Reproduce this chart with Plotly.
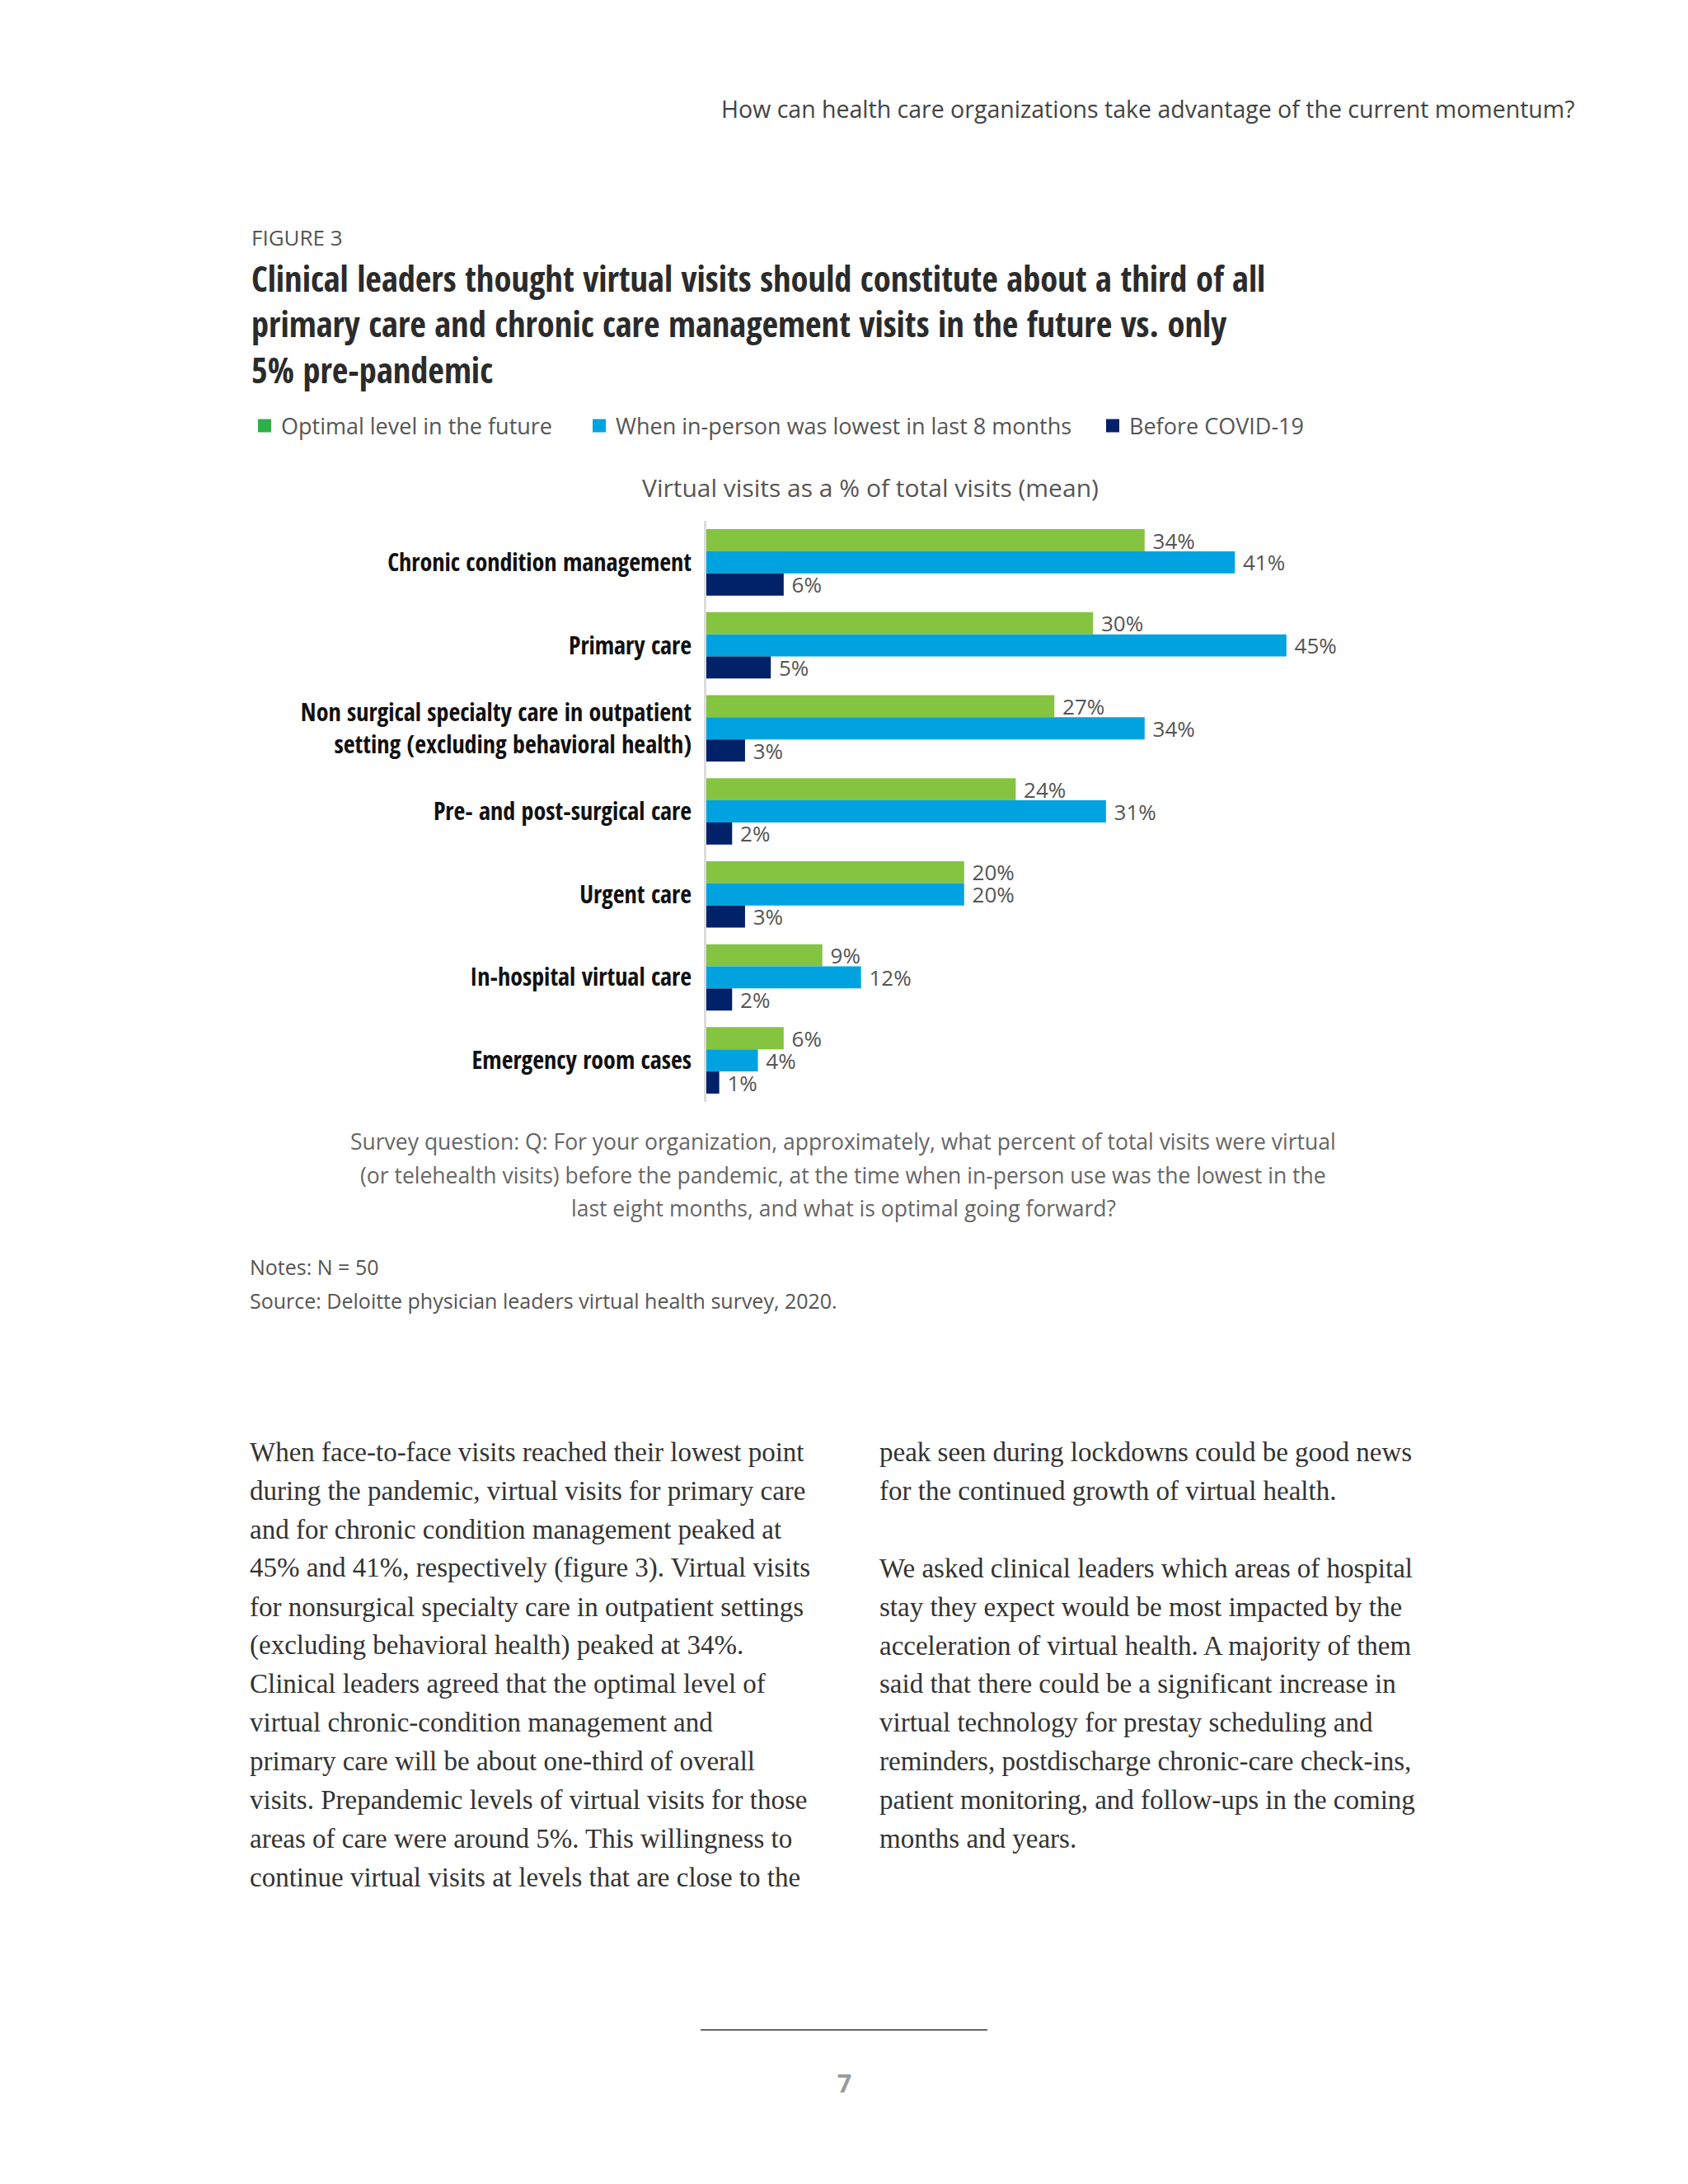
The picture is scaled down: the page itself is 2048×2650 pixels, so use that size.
import plotly.graph_objects as go

# ---------------- data ----------------
categories = [
    "Chronic condition management",
    "Primary care",
    "Non surgical specialty care in outpatient<br>setting (excluding behavioral health)",
    "Pre- and post-surgical care",
    "Urgent care",
    "In-hospital virtual care",
    "Emergency room cases",
]
series_names = [
    "Optimal level in the future",
    "When in-person was lowest in last 8 months",
    "Before COVID-19",
]
optimal_future = [34, 30, 27, 24, 20, 9, 6]
lowest_in_person = [41, 45, 34, 31, 20, 12, 4]
before_covid = [6, 5, 3, 2, 3, 2, 1]

header_text = "How can health care organizations take advantage of the current momentum?"
figure_label = "FIGURE 3"
title_lines = [
    "Clinical leaders thought virtual visits should constitute about a third of all",
    "primary care and chronic care management visits in the future vs. only",
    "5% pre-pandemic",
]
axis_title = "Virtual visits as a % of total visits (mean)"
survey_lines = [
    "Survey question: Q: For your organization, approximately, what percent of total visits were virtual",
    "(or telehealth visits) before the pandemic, at the time when in-person use was the lowest in the",
    "last eight months, and what is optimal going forward?",
]
notes_lines = [
    "Notes: N = 50",
    "Source: Deloitte physician leaders virtual health survey, 2020.",
]
body_left = [
    "When face-to-face visits reached their lowest point",
    "during the pandemic, virtual visits for primary care",
    "and for chronic condition management peaked at",
    "45% and 41%, respectively (figure 3). Virtual visits",
    "for nonsurgical specialty care in outpatient settings",
    "(excluding behavioral health) peaked at 34%.",
    "Clinical leaders agreed that the optimal level of",
    "virtual chronic-condition management and",
    "primary care will be about one-third of overall",
    "visits. Prepandemic levels of virtual visits for those",
    "areas of care were around 5%. This willingness to",
    "continue virtual visits at levels that are close to the",
]
body_right = [
    "peak seen during lockdowns could be good news",
    "for the continued growth of virtual health.",
    "",
    "We asked clinical leaders which areas of hospital",
    "stay they expect would be most impacted by the",
    "acceleration of virtual health. A majority of them",
    "said that there could be a significant increase in",
    "virtual technology for prestay scheduling and",
    "reminders, postdischarge chronic-care check-ins,",
    "patient monitoring, and follow-ups in the coming",
    "months and years.",
]
page_number = "7"

# ---------------- styling ----------------
W, H = 2048, 2650
OFF = 8  # page body margin of the html
PL, PR, PT, PB = 857, 1639, 632, 1337
XMAX = 50

GREEN = "#84C441"
BLUE = "#00A3E0"
NAVY = "#012169"
LEG_GREEN = "#2DB04B"
SANS = "Open Sans, sans-serif"
COND = "Open Sans Condensed, Roboto Condensed, sans-serif"
SERIF = "Liberation Serif, DejaVu Serif, serif"


def px(x):
    return (x - PL) / (PR - PL)


def py(y):
    return (PB - y) / (PB - PT)


fig = go.Figure()
values = [optimal_future, lowest_in_person, before_covid]
colors = [GREEN, BLUE, NAVY]
leg_colors = [LEG_GREEN, BLUE, NAVY]
legend_ids = ["legend", "legend2", "legend3"]
for name, vals, col in zip(series_names, values, colors):
    fig.add_trace(go.Bar(
        y=categories, x=vals, name=name, orientation="h",
        marker=dict(color=col, line=dict(width=0)),
        text=[f" {v}%" for v in vals], textposition="outside",
        textfont=dict(family=SANS, size=26, color="#555555"),
        constraintext="none", cliponaxis=False, showlegend=False,
    ))
for name, col, lg in zip(series_names, leg_colors, legend_ids):
    fig.add_trace(go.Scatter(
        x=[None], y=[None], mode="markers", name=name, legend=lg,
        marker=dict(symbol="square", size=17, color=col),
    ))

legend_x = [301, 707, 1330]
legend_common = dict(
    orientation="h", xref="container", yref="container",
    yanchor="middle", y=1 - (517 - OFF) / H, xanchor="left",
    font=dict(family=SANS, size=27, color="#555555"),
    bgcolor="rgba(0,0,0,0)", itemclick=False,
)
fig.update_layout(
    legend=dict(x=(legend_x[0] - OFF) / W, **legend_common),
    legend2=dict(x=(legend_x[1] - OFF) / W, **legend_common),
    legend3=dict(x=(legend_x[2] - OFF) / W, **legend_common),
)

fig.update_layout(
    width=W, height=H,
    margin=dict(l=PL - OFF, r=W - PR + OFF, t=PT - OFF, b=H - PB + OFF, pad=0),
    paper_bgcolor="white", plot_bgcolor="white",
    barmode="group", bargap=0.2, bargroupgap=0,
    showlegend=True,
    xaxis=dict(range=[0, XMAX], visible=False, fixedrange=True),
    yaxis=dict(
        autorange="reversed", showline=True, linecolor="#dcdcdc", linewidth=3,
        showgrid=False, ticks="", ticklabelstandoff=9,
        tickfont=dict(family=COND, size=30, color="#111111", weight="bold"),
        fixedrange=True,
    ),
)

ann = []


def add_text(text, x, y, size, color, family=SANS, xanchor="left", weight="normal"):
    ann.append(dict(
        text=text, x=px(x), y=py(y), xref="paper", yref="paper",
        xanchor=xanchor, yanchor="middle", showarrow=False, align=xanchor if xanchor != "center" else "center",
        font=dict(family=family, size=size, color=color, weight=weight),
    ))


add_text(header_text, 1913, 132, 28.5, "#444444", xanchor="right")
add_text(figure_label, 303, 288, 26, "#555555")
add_text("<br>".join(title_lines), 303, 393, 42.5, "#2b2b2b", family=COND, weight="bold")
add_text(axis_title, 1056, 591, 30, "#555555", xanchor="center")
for i, line in enumerate(survey_lines):
    add_text(line, 1023, 1385 + i * 40.5, 26.5, "#666666", xanchor="center")
for i, line in enumerate(notes_lines):
    add_text(line, 301, 1537 + i * 41, 25, "#555555")
for i, line in enumerate(body_left):
    add_text(line, 301, 1762 + i * 46.9, 33, "#333333", family=SERIF)
for i, line in enumerate(body_right):
    if line:
        add_text(line, 1065, 1762 + i * 46.9, 33, "#333333", family=SERIF)
add_text(page_number, 1024, 2527, 30, "#9a9a9a", xanchor="center", weight="bold")

fig.update_layout(annotations=ann)
fig.add_shape(type="line", xref="paper", yref="paper",
              x0=px(850), x1=px(1198), y0=py(2463), y1=py(2463),
              line=dict(color="#666666", width=2))

fig.write_html("out.html")
